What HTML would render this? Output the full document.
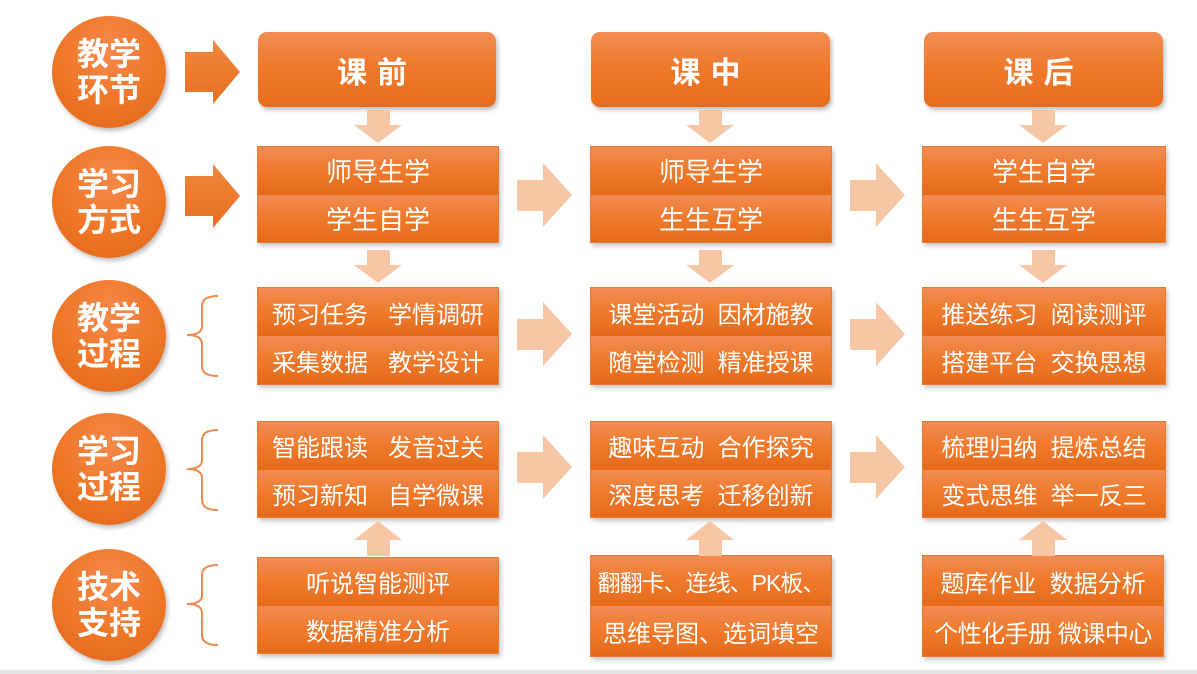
<!DOCTYPE html>
<html><head><meta charset="utf-8"><style>
*{margin:0;padding:0;box-sizing:border-box}
body{width:1197px;height:674px;background:#fff;position:relative;overflow:hidden;font-family:"Liberation Sans","Noto Sans CJK SC","WenQuanYi Zen Hei",sans-serif}
.c{position:absolute;width:114px;height:112px;border-radius:50%;background:radial-gradient(circle at 50% 30%,#f5894a,#ee7626 55%,#e0651a);box-shadow:2px 3px 4px rgba(0,0,0,.25);color:#fff;font-weight:bold;font-size:32px;line-height:36px;text-align:center;display:flex;align-items:center;justify-content:center;letter-spacing:0px}
.h{position:absolute;height:75px;border-radius:9px;background:linear-gradient(#f28d55,#f07a2c 45%,#e66c1c);box-shadow:2px 3px 4px rgba(0,0,0,.25);color:#fff;font-weight:bold;font-size:30px;display:flex;align-items:center;justify-content:center;letter-spacing:10px}
.b{position:absolute;box-shadow:2px 3px 4px rgba(0,0,0,.22);border:1px solid #e87a35}
.s{height:50%;background:linear-gradient(#f18c55,#f07b2d 45%,#e46a1a);color:#fff;font-size:24px;display:flex;align-items:center;justify-content:center;white-space:pre}
.big .s{font-size:26px}
svg{position:absolute;left:0;top:0}
</style></head><body>
<div class="c" style="left:52px;top:16px">教学<br>环节</div>
<div class="c" style="left:52px;top:146px">学习<br>方式</div>
<div class="c" style="left:52px;top:280px">教学<br>过程</div>
<div class="c" style="left:52px;top:413px">学习<br>过程</div>
<div class="c" style="left:52px;top:549px">技术<br>支持</div>

<div class="h" style="left:258px;top:32px;width:238px">课前</div>
<div class="h" style="left:591px;top:32px;width:239px">课中</div>
<div class="h" style="left:924px;top:32px;width:239px">课后</div>

<div class="b big" style="left:257px;top:146px;width:242px;height:97px"><div class="s">师导生学</div><div class="s">学生自学</div></div>
<div class="b big" style="left:590px;top:146px;width:242px;height:97px"><div class="s">师导生学</div><div class="s">生生互学</div></div>
<div class="b big" style="left:922px;top:146px;width:244px;height:97px"><div class="s">学生自学</div><div class="s">生生互学</div></div>

<div class="b" style="left:257px;top:287px;width:242px;height:98px"><div class="s">预习任务   学情调研</div><div class="s">采集数据   教学设计</div></div>
<div class="b" style="left:590px;top:287px;width:242px;height:98px"><div class="s">课堂活动  因材施教</div><div class="s">随堂检测  精准授课</div></div>
<div class="b" style="left:922px;top:287px;width:244px;height:98px"><div class="s">推送练习  阅读测评</div><div class="s">搭建平台  交换思想</div></div>

<div class="b" style="left:257px;top:421px;width:242px;height:97px"><div class="s">智能跟读   发音过关</div><div class="s">预习新知   自学微课</div></div>
<div class="b" style="left:590px;top:421px;width:242px;height:97px"><div class="s">趣味互动  合作探究</div><div class="s">深度思考  迁移创新</div></div>
<div class="b" style="left:922px;top:421px;width:244px;height:97px"><div class="s">梳理归纳  提炼总结</div><div class="s">变式思维  举一反三</div></div>

<div class="b" style="left:257px;top:557px;width:242px;height:97px"><div class="s">听说智能测评</div><div class="s">数据精准分析</div></div>
<div class="b" style="left:590px;top:555px;width:242px;height:102px"><div class="s" style="font-size:23px;letter-spacing:-1px">翻翻卡、连线、PK板、</div><div class="s">思维导图、选词填空</div></div>
<div class="b" style="left:922px;top:555px;width:242px;height:102px"><div class="s">题库作业  数据分析</div><div class="s" style="letter-spacing:-0.5px">个性化手册 微课中心</div></div>

<svg width="1197" height="674">
<defs><linearGradient id="g" x1="0" y1="0" x2="0" y2="1"><stop offset="0" stop-color="#f0883f"/><stop offset="1" stop-color="#e66f1f"/></linearGradient></defs>
<g fill="url(#g)">
<polygon points="185,52 213,52 213,40 240,72 213,104 213,92 185,92"/>
<polygon points="185,176 213,176 213,164 240,196 213,228 213,216 185,216"/>
</g>
<g fill="#f6c6a5">
<g id="d"><polygon points="367,110 390,110 390,125 402,125 378,143 354,125 367,125"/></g>
<use href="#d" x="332"/><use href="#d" x="665"/>
<use href="#d" y="140"/><use href="#d" x="332" y="140"/><use href="#d" x="665" y="140"/>
<g id="r"><polygon points="517,180 543,180 543,163 572,195 543,227 543,211 517,211"/></g>
<use href="#r" x="333"/>
<use href="#r" y="139"/><use href="#r" x="333" y="139"/>
<use href="#r" y="272"/><use href="#r" x="333" y="272"/>
<g id="u"><polygon points="367,556 390,556 390,540 402,540 378,521 354,540 367,540"/></g>
<use href="#u" x="332"/><use href="#u" x="665"/>
</g>
<g fill="none" stroke="#ee8a4e" stroke-width="2">
<path d="M218,296 Q202,296 202,306 L202,326 Q202,335 187,335 Q202,335 202,344 L202,366 Q202,376 218,376"/>
<path d="M218,430 Q202,430 202,440 L202,460 Q202,469 187,469 Q202,469 202,478 L202,500 Q202,510 218,510"/>
<path d="M218,565 Q202,565 202,575 L202,595 Q202,604 187,604 Q202,604 202,613 L202,635 Q202,645 218,645"/>
</g>
<rect x="0" y="670" width="1197" height="4" fill="#e4e4e4"/>
</svg>
</body></html>
